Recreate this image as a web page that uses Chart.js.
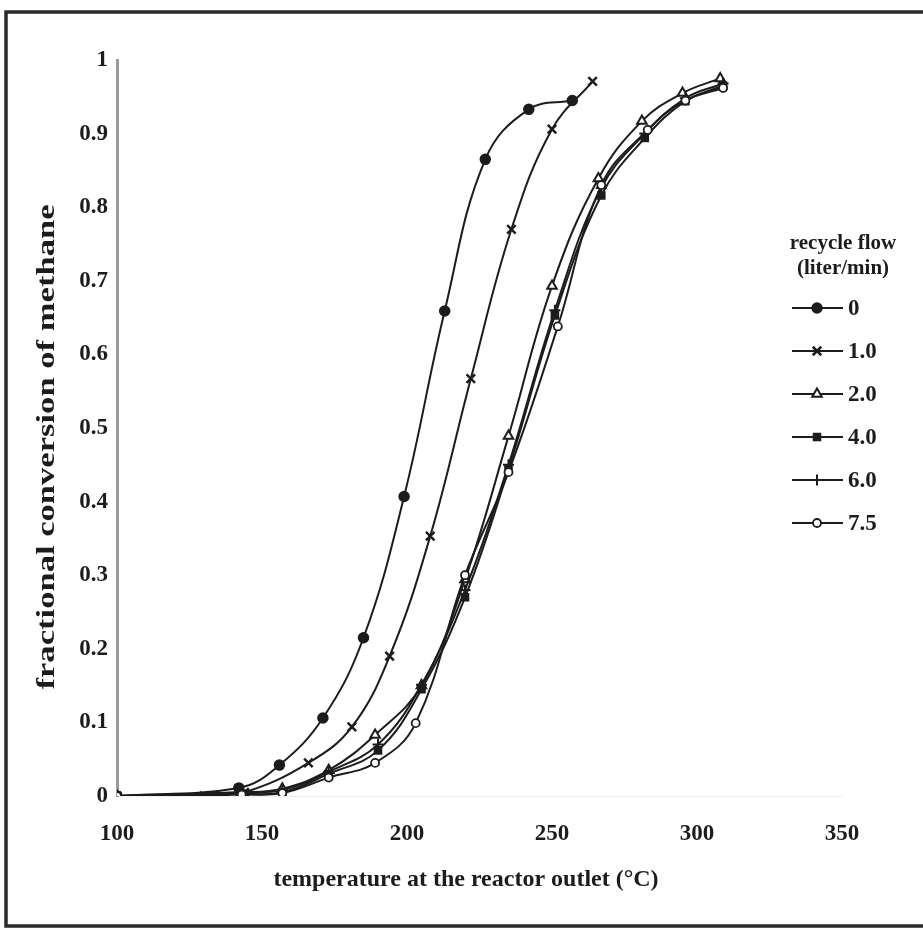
<!DOCTYPE html>
<html>
<head>
<meta charset="utf-8">
<script src="https://cdn.jsdelivr.net/npm/chart.js@4/dist/chart.umd.min.js"></script>
<style>
  html, body { margin: 0; padding: 0; background: #fff; }
  #wrap { position: relative; width: 923px; height: 928px; }
</style>
</head>
<body>
<div id="wrap"><canvas id="c" width="923" height="928"></canvas></div>
<script>
// ---- data ----
const seriesLabels = ['0', '1.0', '2.0', '4.0', '6.0', '7.5'];

const temp_0   = [100, 142, 156, 171, 185, 199, 213, 227, 242, 257];
const conv_0   = [0, 0.011, 0.042, 0.106, 0.215, 0.407, 0.659, 0.865, 0.933, 0.945];

const temp_1   = [100, 130, 144, 166, 181, 194, 208, 222, 236, 250, 264];
const conv_1   = [0, 0, 0.005, 0.045, 0.094, 0.19, 0.353, 0.567, 0.77, 0.906, 0.971];

const temp_2   = [100, 143, 157, 173, 189, 205, 220, 235, 250, 266, 281, 295, 308];
const conv_2   = [0, 0.005, 0.01, 0.035, 0.083, 0.15, 0.294, 0.489, 0.693, 0.839, 0.917, 0.955, 0.975];

const temp_4   = [100, 143, 157, 173, 190, 205, 220, 235, 251, 267, 282, 296, 309];
const conv_4   = [0, 0.003, 0.005, 0.03, 0.062, 0.145, 0.27, 0.444, 0.653, 0.816, 0.894, 0.944, 0.965];

const temp_6   = [100, 143, 157, 173, 190, 205, 220, 235, 251, 267, 282, 296, 309];
const conv_6   = [0, 0.005, 0.008, 0.033, 0.07, 0.151, 0.28, 0.45, 0.66, 0.826, 0.9, 0.948, 0.968];

const temp_75  = [100, 143, 157, 173, 189, 203, 220, 235, 252, 267, 283, 296, 309];
const conv_75  = [0, 0.002, 0.004, 0.025, 0.045, 0.099, 0.3, 0.44, 0.638, 0.83, 0.905, 0.945, 0.962];

const xTicks = [100, 150, 200, 250, 300, 350];
const yTicks = [0, 0.1, 0.2, 0.3, 0.4, 0.5, 0.6, 0.7, 0.8, 0.9, 1];

const xTitle = 'temperature at the reactor outlet (\u00B0C)';
const yTitle = 'fractional conversion of methane';
const legendTitle = ['recycle flow', '(liter/min)'];

// ---- build ----
const INK = '#1c1c1c';
const FONT = "'Liberation Serif', 'Times New Roman', serif";
function pts(xs, ys) { return xs.map((x, i) => ({ x: x, y: ys[i] })); }

const styles = [
  { pointStyle: 'circle',   radius: 5,   fill: INK,    bw: 1.5 },
  { pointStyle: 'crossRot', radius: 6,   fill: INK,    bw: 2.5 },
  { pointStyle: 'triangle', radius: 5.5, fill: '#fff', bw: 2 },
  { pointStyle: 'rect',     radius: 5,   fill: INK,    bw: 1.5 },
  { pointStyle: 'cross',    radius: 5.5, fill: INK,    bw: 2 },
  { pointStyle: 'circle',   radius: 4,   fill: '#fff', bw: 1.8 }
];
const series = [
  pts(temp_0, conv_0), pts(temp_1, conv_1), pts(temp_2, conv_2),
  pts(temp_4, conv_4), pts(temp_6, conv_6), pts(temp_75, conv_75)
];

const datasets = series.map((d, i) => ({
  label: seriesLabels[i],
  data: d,
  borderColor: INK,
  borderWidth: 2,
  tension: 0.4,
  fill: false,
  pointStyle: styles[i].pointStyle,
  pointRadius: styles[i].radius,
  pointBackgroundColor: styles[i].fill,
  pointBorderColor: INK,
  pointBorderWidth: styles[i].bw,
  order: 6 - i
}));

const framePlugin = {
  id: 'frame',
  beforeDraw(chart) {
    const ctx = chart.ctx;
    ctx.save();
    ctx.fillStyle = '#fff';
    ctx.fillRect(0, 0, chart.width, chart.height);
    ctx.strokeStyle = '#2a2a2a';
    ctx.lineWidth = 3.5;
    ctx.strokeRect(6, 12, 920, 914);
    ctx.restore();
  }
};

// axis titles placed as in the reference
const titlesPlugin = {
  id: 'axisTitles',
  afterDraw(chart) {
    const ctx = chart.ctx;
    ctx.save();
    ctx.fillStyle = INK;
    ctx.textAlign = 'center';
    ctx.textBaseline = 'middle';
    // x title
    ctx.font = 'bold 24px ' + FONT;
    ctx.fillText(xTitle, 466, 880);
    // y title, stretched along its baseline to the reference length
    ctx.translate(48, 447);
    ctx.rotate(-Math.PI / 2);
    ctx.font = 'bold 25px ' + FONT;
    const w = ctx.measureText(yTitle).width;
    ctx.scale(485 / w, 1);
    ctx.fillText(yTitle, 0, 0);
    ctx.restore();
  }
};

const legendPlugin = {
  id: 'customLegend',
  afterDraw(chart) {
    const ctx = chart.ctx;
    ctx.save();
    ctx.fillStyle = INK;
    ctx.font = 'bold 21px ' + FONT;
    ctx.textAlign = 'center';
    ctx.textBaseline = 'middle';
    ctx.fillText(legendTitle[0], 843, 244);
    ctx.fillText(legendTitle[1], 843, 269);
    const ys = [308, 351, 394, 437, 480, 523];
    chart.data.datasets.forEach((ds, i) => {
      const y = ys[i];
      ctx.strokeStyle = INK;
      ctx.lineWidth = 2;
      ctx.beginPath();
      ctx.moveTo(792, y);
      ctx.lineTo(843, y);
      ctx.stroke();
      ctx.fillStyle = ds.pointBackgroundColor;
      ctx.strokeStyle = INK;
      ctx.lineWidth = ds.pointBorderWidth;
      Chart.helpers.drawPoint(ctx, {
        pointStyle: ds.pointStyle,
        radius: ds.pointRadius,
        rotation: 0,
        borderWidth: ds.pointBorderWidth
      }, 817, y);
      ctx.fillStyle = INK;
      ctx.font = 'bold 23px ' + FONT;
      ctx.textAlign = 'left';
      ctx.fillText(ds.label, 848, y + 1);
    });
    ctx.restore();
  }
};

new Chart(document.getElementById('c'), {
  type: 'line',
  data: { datasets: datasets },
  options: {
    responsive: false,
    animation: false,
    events: [],
    layout: { padding: { left: 0, top: 60, right: 81, bottom: 0 } },
    plugins: { legend: { display: false }, tooltip: { enabled: false } },
    scales: {
      x: {
        type: 'linear',
        min: 100, max: 350,
        afterBuildTicks(scale) { scale.ticks = xTicks.map(v => ({ value: v })); },
        afterFit(scale) { scale.height = 132; },
        grid: { display: false, drawTicks: false },
        border: { display: true, color: '#eeeeee', width: 1 },
        ticks: {
          color: INK, padding: 24,
          font: { family: FONT, size: 23, weight: 'bold' },
          maxRotation: 0
        },
        title: { display: false }
      },
      y: {
        type: 'linear',
        min: 0, max: 1,
        afterBuildTicks(scale) { scale.ticks = yTicks.map(v => ({ value: v })); },
        afterFit(scale) { scale.width = 117; },
        grid: { display: false, drawTicks: false },
        border: { display: true, color: '#9a9a9a', width: 3 },
        ticks: {
          color: INK, padding: 9,
          font: { family: FONT, size: 23, weight: 'bold' },
          callback: v => String(v)
        },
        title: { display: false }
      }
    }
  },
  plugins: [framePlugin, titlesPlugin, legendPlugin]
});
</script>
</body>
</html>
